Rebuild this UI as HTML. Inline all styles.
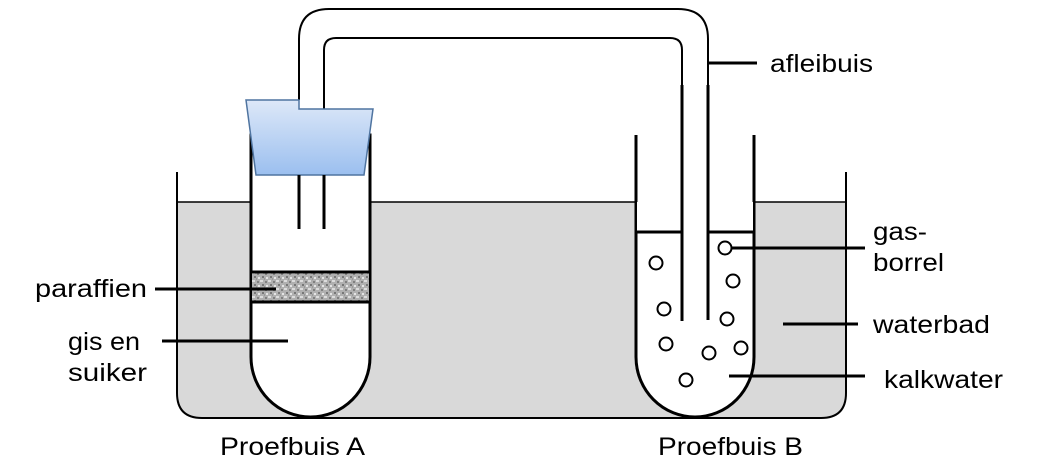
<!DOCTYPE html>
<html><head><meta charset="utf-8"><style>
html,body{margin:0;padding:0;background:#fff;}
svg{display:block;}
text{font-family:"Liberation Sans",Arial,sans-serif;font-size:25px;fill:#000;}
</style></head><body>
<svg width="1060" height="467" viewBox="0 0 1060 467" xmlns="http://www.w3.org/2000/svg">
<defs>
<linearGradient id="g" x1="0" y1="0" x2="0" y2="1">
<stop offset="0" stop-color="#dde8f8"/><stop offset="1" stop-color="#9bbfef"/>
</linearGradient>
<pattern id="p" width="8" height="8" patternUnits="userSpaceOnUse">
<rect width="8" height="8" fill="#b0b0b0"/>
<rect x="1" y="1" width="2" height="2" fill="#808080"/><rect x="4" y="0" width="3" height="2" fill="#dcdcdc"/>
<rect x="2" y="5" width="2" height="2" fill="#e4e4e4"/><rect x="6" y="4" width="2" height="2" fill="#777"/>
<rect x="0" y="6" width="1" height="2" fill="#999"/>
</pattern>
</defs>
<path d="M177,202 L846,202 L846,393 Q846,418 821,418 L202,418 Q177,418 177,393 Z" fill="#d9d9d9"/>
<path d="M177,172 L177,393 Q177,418 202,418 L821,418 Q846,418 846,393 L846,172" fill="none" stroke="#000" stroke-width="2"/>
<line x1="177" y1="202" x2="846" y2="202" stroke="#000" stroke-width="1.5"/>
<path d="M251,135 L251,357 A59.5,60 0 0 0 370,357 L370,135 Z" fill="#fff" stroke="#000" stroke-width="3"/>
<rect x="252" y="272" width="117" height="30" fill="url(#p)"/>
<line x1="251" y1="272" x2="370" y2="272" stroke="#000" stroke-width="3"/>
<line x1="251" y1="302" x2="370" y2="302" stroke="#000" stroke-width="3"/>
<path d="M636,135 L636,357 A59,60 0 0 0 754,357 L754,135" fill="#fff" stroke="#000" stroke-width="3"/>
<rect x="637" y="135" width="116" height="96" fill="#fff"/>
<path d="M636,202 L636,135 M754,202 L754,135" stroke="#000" stroke-width="3"/>
<line x1="636" y1="232" x2="682" y2="232" stroke="#000" stroke-width="3"/>
<line x1="708" y1="232" x2="754" y2="232" stroke="#000" stroke-width="3"/>
<path d="M299,100 L299,39 Q299,9 329,9 L678,9 Q708,9 708,39 L708,85" fill="none" stroke="#000" stroke-width="2"/>
<path d="M324,109 L324,50 Q324,38 336,38 L670,38 Q682,38 682,50 L682,85" fill="none" stroke="#000" stroke-width="2"/>
<line x1="682" y1="85" x2="682" y2="321" stroke="#000" stroke-width="3"/>
<line x1="708" y1="85" x2="708" y2="320" stroke="#000" stroke-width="3"/>
<polygon points="246,100 299,100 299,109 373,109 364,175 256,175" fill="url(#g)" stroke="#4f74a0" stroke-width="1.5"/>
<line x1="299" y1="175" x2="299" y2="229" stroke="#000" stroke-width="3"/>
<line x1="324" y1="175" x2="324" y2="229" stroke="#000" stroke-width="3"/>
<g fill="#fff" stroke="#000" stroke-width="2">
<circle cx="656" cy="263" r="6.5"/><circle cx="725" cy="248" r="6.5"/><circle cx="733" cy="281" r="6.5"/>
<circle cx="664" cy="309" r="6.5"/><circle cx="727" cy="319" r="6.5"/><circle cx="666" cy="344" r="6.5"/>
<circle cx="709" cy="353" r="6.5"/><circle cx="741" cy="348" r="6.5"/><circle cx="686" cy="380" r="6.5"/>
</g>
<g stroke="#000" stroke-width="3">
<line x1="155" y1="289" x2="276" y2="289"/>
<line x1="162" y1="341" x2="288" y2="341"/>
<line x1="708" y1="63" x2="757" y2="63"/>
<line x1="731" y1="248" x2="865" y2="248"/>
<line x1="783" y1="324" x2="858" y2="324"/>
<line x1="729" y1="376" x2="865" y2="376"/>
</g>
<text x="35" y="297" textLength="112" lengthAdjust="spacingAndGlyphs">paraffien</text>
<text x="68" y="350" textLength="72" lengthAdjust="spacingAndGlyphs">gis en</text>
<text x="68" y="381" textLength="79" lengthAdjust="spacingAndGlyphs">suiker</text>
<text x="770" y="72" textLength="103" lengthAdjust="spacingAndGlyphs">afleibuis</text>
<text x="873" y="240" textLength="54" lengthAdjust="spacingAndGlyphs">gas-</text>
<text x="873" y="271" textLength="71" lengthAdjust="spacingAndGlyphs">borrel</text>
<text x="873" y="333" textLength="117" lengthAdjust="spacingAndGlyphs">waterbad</text>
<text x="884" y="388" textLength="119" lengthAdjust="spacingAndGlyphs">kalkwater</text>
<text x="220" y="455" textLength="145" lengthAdjust="spacingAndGlyphs">Proefbuis A</text>
<text x="658" y="455" textLength="145" lengthAdjust="spacingAndGlyphs">Proefbuis B</text>
</svg>
</body></html>
